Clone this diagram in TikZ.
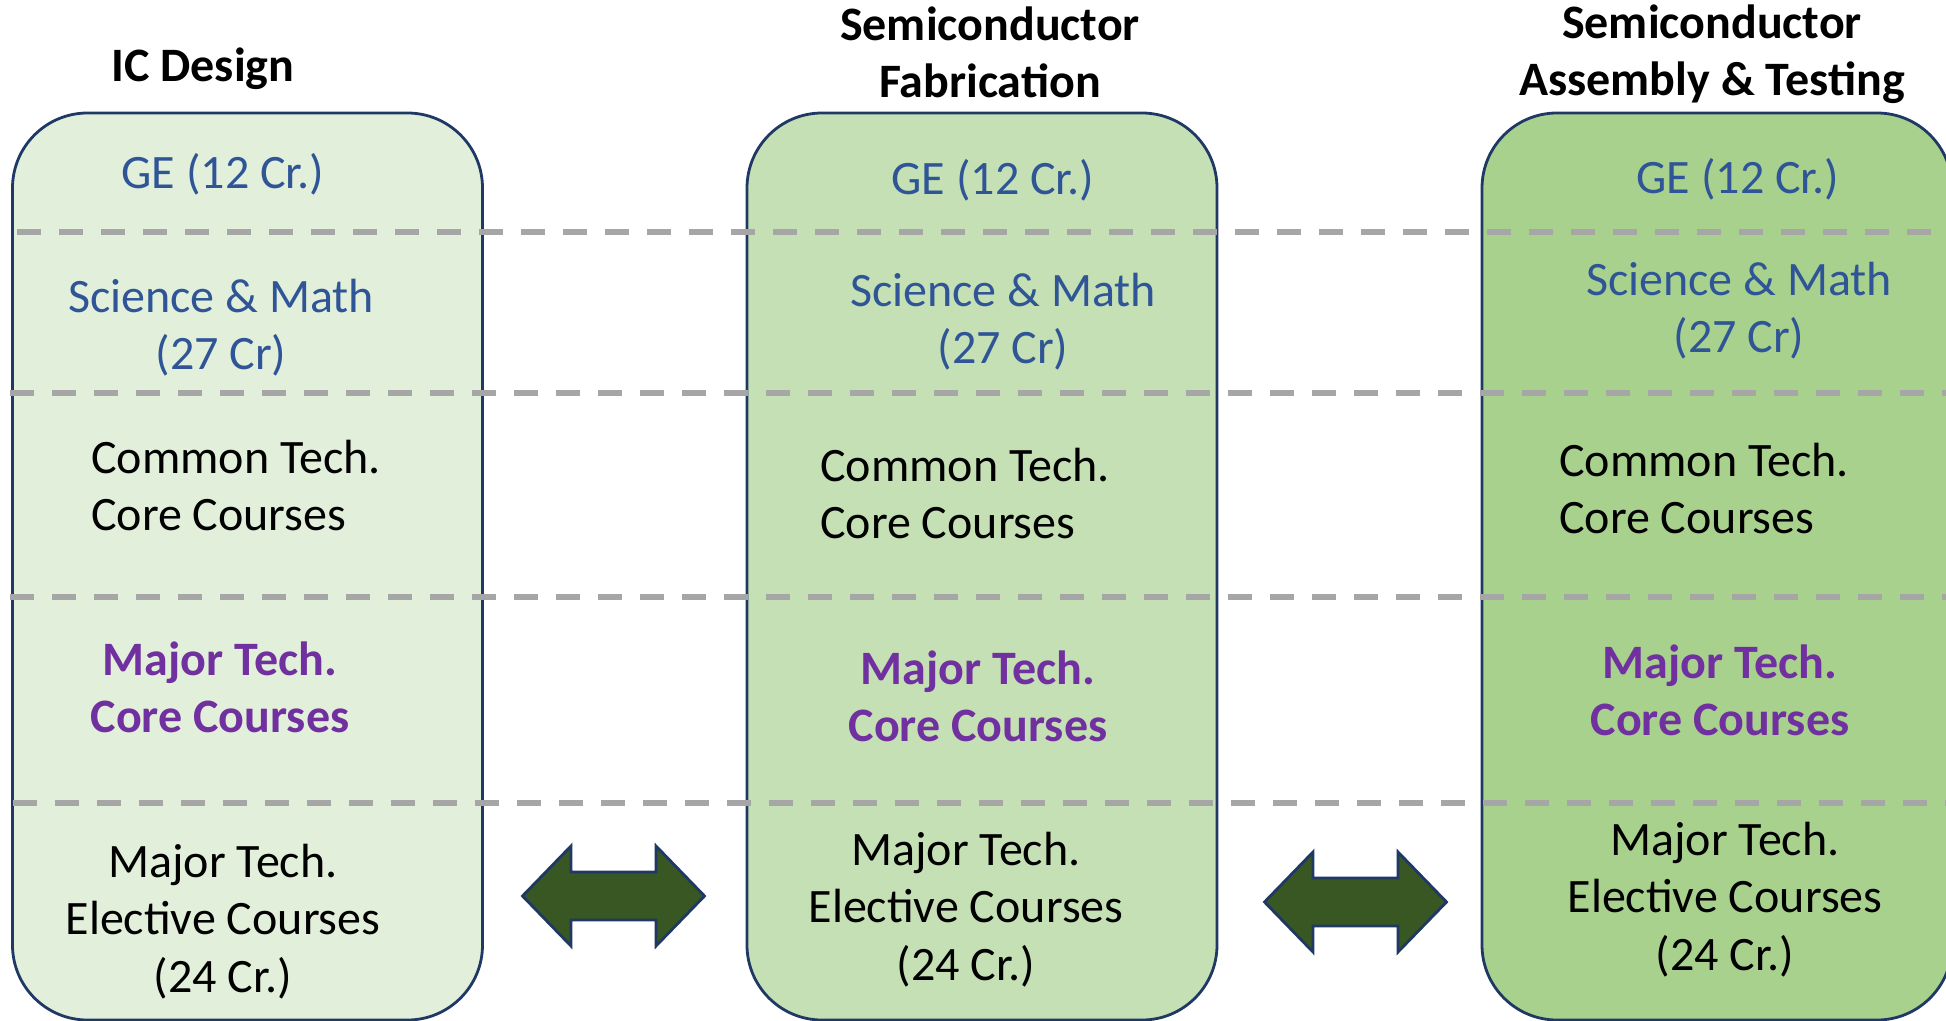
\documentclass[tikz,border=0pt]{standalone}
\usepackage{fontspec}
\setmainfont{Carlito}
\definecolor{edgenavy}{HTML}{1F3864}
\definecolor{fillA}{HTML}{E2EFDA}
\definecolor{fillB}{HTML}{C5E0B4}
\definecolor{fillC}{HTML}{A9D18E}
\definecolor{gridgrey}{HTML}{A6A6A6}
\definecolor{credblue}{HTML}{2F5597}
\definecolor{majorpurple}{HTML}{7030A0}
\definecolor{arrowgreen}{HTML}{385723}
\tikzset{
  track/.style={draw=edgenavy, line width=2.8pt, rounded corners=75pt,
    minimum width=470pt, minimum height=907pt, inner sep=0pt},
  rowline/.style={draw=gridgrey, line width=6.5pt, dash pattern=on 24pt off 18pt},
  label/.style={inner sep=0pt, anchor=north, align=center,
    font=\fontsize{48}{57.5}\selectfont},
  leftlabel/.style={label, anchor=north west, align=left},
  heading/.style={label, font=\fontsize{48}{57.5}\selectfont\bfseries},
  credit/.style={text=credblue},
  major/.style={text=majorpurple, font=\fontsize{48}{57.5}\selectfont\bfseries},
  swapshape/.style={draw=edgenavy, line width=2.8pt, fill=arrowgreen, line join=miter},
  pics/swap/.style={code={
    \path[swapshape] (-91,0) -- (-42.5,-50) -- (-42.5,-24) -- (42.5,-24)
      -- (42.5,-50) -- (91,0) -- (42.5,50) -- (42.5,24) -- (-42.5,24)
      -- (-42.5,50) -- cycle;}}
}
\begin{document}
\begin{tikzpicture}[x=1pt,y=-1pt]
\useasboundingbox (0,0) rectangle (1946,1020);
\clip (0,0) rectangle (1946,1020);

% the three degree tracks
\node[track, fill=fillA] (trackA) at (247.5,566.5) {};
\node[track, fill=fillB] (trackB) at (982,566.5) {};
\node[track, fill=fillC] (trackC) at (1717,566.5) {};

% row separators running across all tracks
\coordinate (r1a) at (17,232);  \coordinate (r1b) at (1946,232);
\coordinate (r2a) at (10,393);  \coordinate (r2b) at (1946,393);
\coordinate (r3a) at (10,597);  \coordinate (r3b) at (1946,597);
\coordinate (r4a) at (13,803);  \coordinate (r4b) at (1946,803);
\draw[rowline] (r1a) -- (r1b);
\draw[rowline] (r2a) -- (r2b);
\draw[rowline] (r3a) -- (r3b);
\draw[rowline] (r4a) -- (r4b);

% elective exchange arrows
\pic at (613.5,896) {swap};
\pic at (1355.5,902) {swap};

% headings
\node[heading] (hA) at (203,40.75) {\strut IC Design};
\node[heading] (hB) at (990,-0.25) {\strut Semiconductor\\Fabrication};
\node[heading] (hC) at (1712,-2.25) {\strut Semiconductor\\Assembly \& Testing};

% IC Design
\node[label, credit] (geA) at (223,147.75) {\strut GE (12 Cr.)};
\node[label, credit] (smA) at (221,271.75) {\strut Science \& Math\\(27 Cr)};
\node[leftlabel] (ctA) at (91,432.75) {\strut Common Tech.\\Core Courses};
\node[label, major] (mcA) at (220,634.75) {\strut Major Tech.\\Core Courses};
\node[label] (meA) at (223,836.75) {\strut Major Tech.\\Elective Courses\\(24 Cr.)};

% Semiconductor Fabrication
\node[label, credit] (geB) at (993,153.75) {\strut GE (12 Cr.)};
\node[label, credit] (smB) at (1003,265.75) {\strut Science \& Math\\(27 Cr)};
\node[leftlabel] (ctB) at (820,440.75) {\strut Common Tech.\\Core Courses};
\node[label, major] (mcB) at (978,643.75) {\strut Major Tech.\\Core Courses};
\node[label] (meB) at (966,824.75) {\strut Major Tech.\\Elective Courses\\(24 Cr.)};

% Semiconductor Assembly & Testing
\node[label, credit] (geC) at (1738,152.75) {\strut GE (12 Cr.)};
\node[label, credit] (smC) at (1739,254.75) {\strut Science \& Math\\(27 Cr)};
\node[leftlabel] (ctC) at (1559,435.75) {\strut Common Tech.\\Core Courses};
\node[label, major] (mcC) at (1720,637.75) {\strut Major Tech.\\Core Courses};
\node[label] (meC) at (1725,814.75) {\strut Major Tech.\\Elective Courses\\(24 Cr.)};
\end{tikzpicture}
\end{document}
